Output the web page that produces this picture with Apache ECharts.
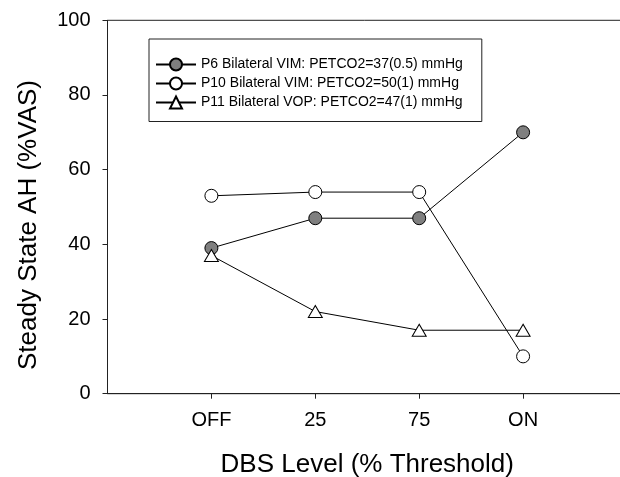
<!DOCTYPE html>
<html>
<head>
<meta charset="utf-8">
<script src="https://cdn.jsdelivr.net/npm/echarts@6/dist/echarts.min.js"></script>
<style>
  html, body { margin: 0; padding: 0; background: #fff; }
  #chart { width: 620px; height: 477px; }
</style>
</head>
<body>
<div id="chart"></div>
<script>
// DBS stimulation levels along the x axis
const categories = ['OFF', '25', '75', 'ON'];

// Steady-state air hunger (%VAS) per patient
const p6Values  = [39, 47, 47, 70];
const p10Values = [53, 54, 54, 10];
const p11Values = [37, 22, 17, 17];

const seriesNames = [
  'P6 Bilateral VIM: PETCO2=37(0.5) mmHg',
  'P10 Bilateral VIM: PETCO2=50(1) mmHg',
  'P11 Bilateral VOP: PETCO2=47(1) mmHg'
];

const yTicks = [0, 20, 40, 60, 80, 100];

const FONT = '"Liberation Sans", Arial, Helvetica, sans-serif';
const catPositions = categories.map((c, i) => i + 1);
const toPoints = vals => vals.map((v, i) => [i + 1, v]);

const chart = echarts.init(document.getElementById('chart'), null, { renderer: 'canvas' });

function lineSeries(name, vals, symbol, size, fill) {
  return {
    name: name,
    type: 'line',
    data: toPoints(vals),
    symbol: symbol,
    symbolSize: size,
    showAllSymbol: true,
    lineStyle: { color: '#000', width: 1 },
    itemStyle: { color: fill, borderColor: '#000', borderWidth: 1 },
    emphasis: { disabled: true },
    animation: false
  };
}

chart.setOption({
  backgroundColor: '#fff',
  animation: false,
  grid: {
    left: 107.5,
    top: 20.3,
    width: 519.5,
    height: 373.4,
    outerBoundsMode: 'none',
    containLabel: false,
    show: true,
    borderColor: '#222',
    borderWidth: 1,
    backgroundColor: 'transparent'
  },
  legend: {
    orient: 'vertical',
    left: 149,
    top: 39,
    align: 'left',
    padding: [18.5, 19, 12, 6],
    itemWidth: 40,
    itemHeight: 15,
    itemGap: 5,
    borderColor: '#222',
    borderWidth: 1,
    backgroundColor: '#fff',
    textStyle: { fontFamily: FONT, fontSize: 14, color: '#000' },
    data: seriesNames
  },
  xAxis: {
    type: 'value',
    min: 0,
    max: 5,
    interval: 1,
    name: 'DBS Level (% Threshold)',
    nameLocation: 'middle',
    nameGap: 58,
    nameTextStyle: { fontFamily: FONT, fontSize: 26, color: '#000' },
    axisLine: { show: true, onZero: false, lineStyle: { color: '#222', width: 1 } },
    axisTick: { show: true, length: 5, customValues: catPositions, lineStyle: { color: '#222' } },
    axisLabel: {
      customValues: catPositions,
      margin: 17,
      fontFamily: FONT,
      fontSize: 20,
      color: '#000',
      formatter: v => categories[v - 1]
    },
    splitLine: { show: false }
  },
  yAxis: {
    type: 'value',
    min: 0,
    max: 100,
    interval: 20,
    name: 'Steady State AH (%VAS)',
    nameLocation: 'middle',
    nameRotate: 90,
    nameGap: 66,
    nameTextStyle: { fontFamily: FONT, fontSize: 26, color: '#000', padding: [0, 36, 0, 0] },
    axisLine: { show: true, lineStyle: { color: '#222', width: 1 } },
    axisTick: { show: true, length: 5, lineStyle: { color: '#222' } },
    axisLabel: {
      margin: 17,
      fontFamily: FONT,
      fontSize: 20,
      color: '#000',
      customValues: yTicks
    },
    splitLine: { show: false }
  },
  series: [
    lineSeries(seriesNames[0], p6Values, 'circle', 13, '#7f7f7f'),
    lineSeries(seriesNames[1], p10Values, 'circle', 13, '#fff'),
    lineSeries(seriesNames[2], p11Values, 'triangle', [14, 12], '#fff')
  ]
});
</script>
</body>
</html>
